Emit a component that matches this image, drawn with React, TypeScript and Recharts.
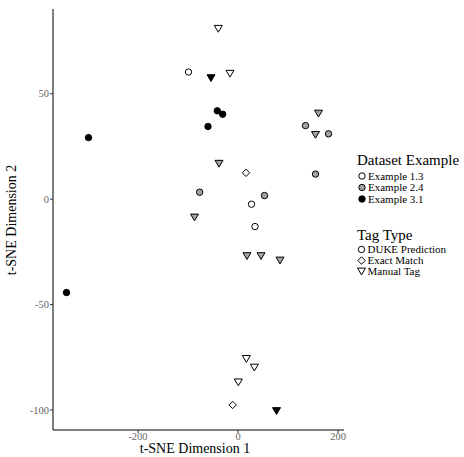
import React from "react";
import { ScatterChart, Scatter, XAxis, YAxis } from "recharts";

// Example 1.3 (white)
const ex13Duke = [
  { x: -99, y: 60.3 },
  { x: 27, y: -2.4 },
  { x: 34, y: -13 },
];
const ex13Exact = [
  { x: 16, y: 12.5 },
  { x: -10.7, y: -97.6 },
];
const ex13Manual = [
  { x: -39.4, y: 80.8 },
  { x: -16, y: 59.5 },
  { x: 16.7, y: -75.8 },
  { x: 32.7, y: -79.9 },
  { x: 0.7, y: -86.9 },
];
// Example 2.4 (gray)
const ex24Duke = [
  { x: -76.7, y: 3.3 },
  { x: 135, y: 34.9 },
  { x: 181, y: 31 },
  { x: 155, y: 11.9 },
  { x: 53, y: 1.7 },
];
const ex24Manual = [
  { x: -38, y: 16.8 },
  { x: -87, y: -8.7 },
  { x: 161, y: 40.6 },
  { x: 155, y: 30.5 },
  { x: 18, y: -27 },
  { x: 46, y: -27 },
  { x: 84, y: -29.1 },
];
// Example 3.1 (black)
const ex31Duke = [
  { x: -41.4, y: 41.9 },
  { x: -30.7, y: 40.3 },
  { x: -60, y: 34.5 },
  { x: -299, y: 29.2 },
  { x: -343, y: -44.3 },
];
const ex31Manual = [
  { x: -54, y: 57.4 },
  { x: 77, y: -100.5 },
];

const xTicks = [-200, 0, 200];
const yTicks = [-100, -50, 0, 50];

const datasetLabels = ["Example 1.3", "Example 2.4", "Example 3.1"];
const datasetFills = ["#ffffff", "#a3a3a3", "#000000"];
const tagLabels = ["DUKE Prediction", "Exact Match", "Manual Tag"];
const tagShapes = ["circle", "diamond", "triangle"];

const FONT = "'Liberation Serif', serif";

function Marker({ cx, cy, kind, fill }: { cx: number; cy: number; kind: string; fill: string }) {
  if (cx == null || cy == null) return null;
  if (kind === "circle") {
    return <circle cx={cx} cy={cy} r={3.2} fill={fill} stroke="#000" strokeWidth={1} />;
  }
  if (kind === "diamond") {
    const d = 3.7;
    return (
      <polygon
        points={`${cx},${cy - d} ${cx + d},${cy} ${cx},${cy + d} ${cx - d},${cy}`}
        fill={fill}
        stroke="#000"
        strokeWidth={1}
      />
    );
  }
  const hw = 4;
  const h = 6.8;
  return (
    <polygon
      points={`${cx - hw},${cy - h / 2} ${cx + hw},${cy - h / 2} ${cx},${cy + h / 2}`}
      fill={fill}
      stroke="#000"
      strokeWidth={1}
    />
  );
}

const seriesList = [
  { data: ex13Duke, kind: "circle", fill: datasetFills[0] },
  { data: ex13Exact, kind: "diamond", fill: datasetFills[0] },
  { data: ex13Manual, kind: "triangle", fill: datasetFills[0] },
  { data: ex24Duke, kind: "circle", fill: datasetFills[1] },
  { data: ex24Manual, kind: "triangle", fill: datasetFills[1] },
  { data: ex31Duke, kind: "circle", fill: datasetFills[2] },
  { data: ex31Manual, kind: "triangle", fill: datasetFills[2] },
];

export default function App() {
  return (
    <div style={{ position: "absolute", left: 0, top: 0, width: 464, height: 457, background: "#fff" }}>
      <ScatterChart
        width={464}
        height={457}
        margin={{ top: 9, right: 120, bottom: 0, left: 0 }}
        style={{ fontFamily: FONT }}
      >
        <XAxis
          type="number"
          dataKey="x"
          domain={[-370, 212]}
          ticks={xTicks}
          allowDataOverflow
          height={27}
          tickSize={3}
          tickMargin={0}
          axisLine={{ stroke: "#000", strokeWidth: 1 }}
          tickLine={{ stroke: "#333" }}
          tick={{ fill: "#666", fontSize: 10.5, fontFamily: FONT }}
        />
        <YAxis
          type="number"
          dataKey="y"
          domain={[-109.5, 90.2]}
          ticks={yTicks}
          allowDataOverflow
          width={53}
          tickSize={3}
          tickMargin={1}
          axisLine={{ stroke: "#000", strokeWidth: 1 }}
          tickLine={{ stroke: "#333" }}
          tick={{ fill: "#666", fontSize: 10.5, fontFamily: FONT }}
        />
        {seriesList.map((s, i) => (
          <Scatter
            key={i}
            data={s.data}
            isAnimationActive={false}
            shape={(p: any) => <Marker cx={p.cx} cy={p.cy} kind={s.kind} fill={s.fill} />}
          />
        ))}
      </ScatterChart>
      <svg
        width={464}
        height={457}
        style={{ position: "absolute", left: 0, top: 0, pointerEvents: "none", fontFamily: FONT }}
      >
        <text x={195} y={453} textAnchor="middle" fontSize={14} fill="#000">
          t-SNE Dimension 1
        </text>
        <text
          x={0}
          y={0}
          transform="translate(16,220) rotate(-90)"
          textAnchor="middle"
          fontSize={14}
          fill="#000"
        >
          t-SNE Dimension 2
        </text>
        <text x={357} y={165} fontSize={15} fill="#000">
          Dataset Example
        </text>
        {datasetLabels.map((lab, i) => (
          <g key={lab}>
            <Marker cx={362} cy={176 + i * 11.5} kind="circle" fill={datasetFills[i]} />
            <text x={368} y={176 + i * 11.5 + 3.8} fontSize={11} fill="#000">
              {lab}
            </text>
          </g>
        ))}
        <text x={357} y={240} fontSize={15} fill="#000">
          Tag Type
        </text>
        {tagLabels.map((lab, i) => (
          <g key={lab}>
            <Marker cx={361.5} cy={249.5 + i * 11} kind={tagShapes[i]} fill="#fff" />
            <text x={367.5} y={249.5 + i * 11 + 3.8} fontSize={11} fill="#000">
              {lab}
            </text>
          </g>
        ))}
      </svg>
    </div>
  );
}
